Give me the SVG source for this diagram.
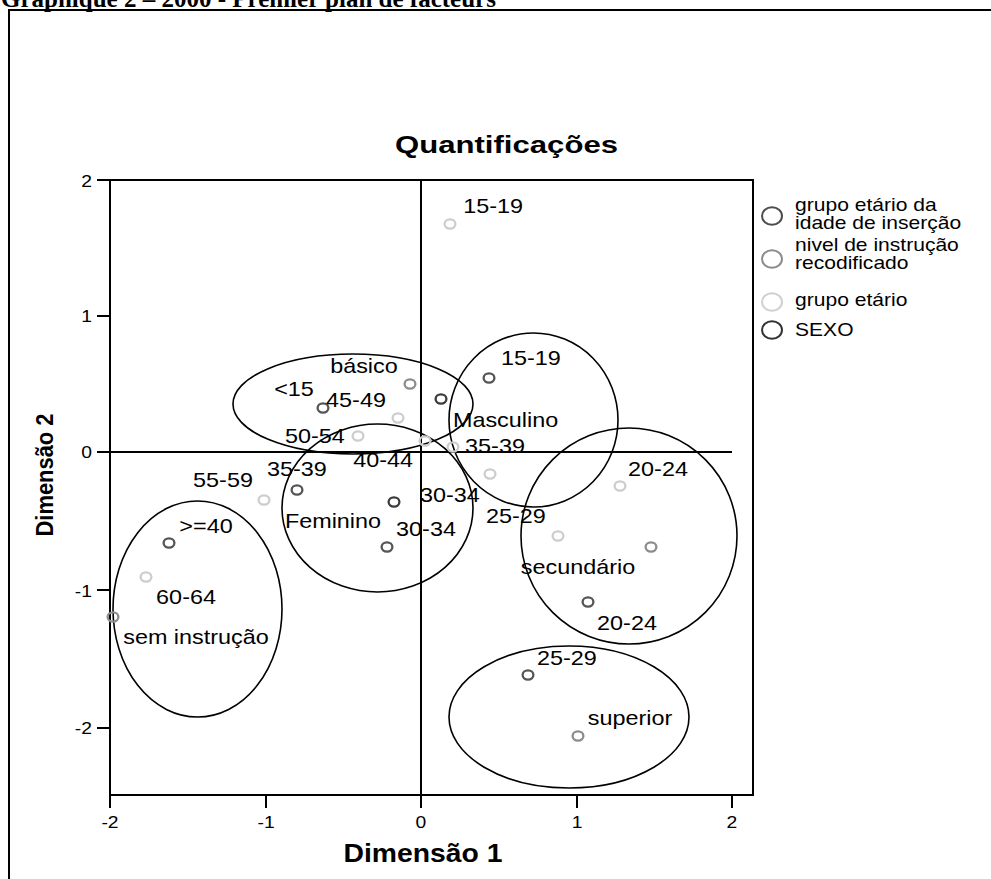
<svg xmlns="http://www.w3.org/2000/svg" width="991" height="879" viewBox="0 0 991 879">
<style>
  text{font-family:"Liberation Sans",Arial,sans-serif;fill:#000}
  .lbl{font-size:20px;text-anchor:middle}
  .leg{font-size:18px}
  .tkx{font-size:16.5px;text-anchor:middle}
  .tky{font-size:16.5px;text-anchor:end}
  .b{font-weight:bold;text-anchor:middle}
  .ax{stroke:#000;stroke-width:2;fill:none}
  .el{stroke:#000;stroke-width:1.6;fill:none}
  .pt{fill:none;stroke-width:2.3}
  .lt{stroke:#cdcdcd}
  .md{stroke:#8c8c8c}
  .dk{stroke:#555555}
  .sx{stroke:#3c3c3c}
  .lg{fill:none;stroke-width:2}
</style>
<rect width="991" height="879" fill="#ffffff"/>
<text x="1" y="6.5" style="font-family:'Liberation Serif','Times New Roman',serif;font-weight:bold;font-size:25px">Graphique 2 – 2000 - Premier plan de facteurs</text>
<path class="ax" d="M9,879 V10 H991"/>

<g id="title">
  <text class="b" x="506.5" y="153" font-size="24" textLength="223" lengthAdjust="spacingAndGlyphs">Quantificações</text>
</g>

<g id="axes">
  <rect class="ax" x="110" y="180" width="643" height="615"/>
  <path class="ax" d="M110,452 H732 M421,180 V795"/>
  <path class="ax" d="M97,180 H110 M97,316 H110 M97,452 H110 M97,590 H110 M97,728 H110"/>
  <path class="ax" d="M110,795 V808 M266,795 V808 M421,795 V808 M577,795 V808 M732,795 V808"/>
  <g transform="scale(1.17,1)">
    <text class="tky" x="78.6" y="187">2</text>
    <text class="tky" x="78.6" y="322">1</text>
    <text class="tky" x="78.6" y="458">0</text>
    <text class="tky" x="78.6" y="597">-1</text>
    <text class="tky" x="78.6" y="734">-2</text>
    <text class="tkx" x="94.0" y="828">-2</text>
    <text class="tkx" x="227.4" y="828">-1</text>
    <text class="tkx" x="359.8" y="828">0</text>
    <text class="tkx" x="493.2" y="828">1</text>
    <text class="tkx" x="625.6" y="828">2</text>
  </g>
  <text class="b" x="423" y="862" font-size="25.5" textLength="159" lengthAdjust="spacingAndGlyphs">Dimensão 1</text>
  <text class="b" transform="translate(53,475) rotate(-90)" x="0" y="0" font-size="23" textLength="123" lengthAdjust="spacingAndGlyphs">Dimensão 2</text>
</g>

<g id="clusters">
  <ellipse id="c-basico" class="el" cx="353" cy="404" rx="120" ry="50"/>
  <ellipse id="c-masculino" class="el" cx="533.5" cy="420" rx="84.5" ry="87"/>
  <ellipse id="c-feminino" class="el" cx="377.5" cy="508" rx="95.5" ry="84"/>
  <ellipse id="c-sem" class="el" cx="197.5" cy="609" rx="84.5" ry="108"/>
  <ellipse id="c-secundario" class="el" cx="629" cy="536" rx="108" ry="108"/>
  <ellipse id="c-superior" class="el" cx="569" cy="717" rx="120" ry="71"/>
</g>

<g id="points">
  <g id="grupo-etario">
    <ellipse class="pt lt" cx="450" cy="224" rx="5.4" ry="4.6"/>
    <ellipse class="pt lt" cx="398" cy="418" rx="5.4" ry="4.6"/>
    <ellipse class="pt lt" cx="358" cy="436" rx="5.4" ry="4.6"/>
    <ellipse class="pt lt" cx="425" cy="441" rx="5.4" ry="4.6"/>
    <ellipse class="pt lt" cx="453" cy="447" rx="5.4" ry="4.6"/>
    <ellipse class="pt lt" cx="490" cy="474" rx="5.4" ry="4.6"/>
    <ellipse class="pt lt" cx="264" cy="500" rx="5.4" ry="4.6"/>
    <ellipse class="pt lt" cx="620" cy="486" rx="5.4" ry="4.6"/>
    <ellipse class="pt lt" cx="558" cy="536" rx="5.4" ry="4.6"/>
    <ellipse class="pt lt" cx="146" cy="577" rx="5.4" ry="4.6"/>
  </g>
  <g id="nivel">
    <ellipse class="pt md" cx="410" cy="384" rx="5.4" ry="4.6"/>
    <ellipse class="pt md" cx="651" cy="547" rx="5.4" ry="4.6"/>
    <ellipse class="pt md" cx="578" cy="736" rx="5.4" ry="4.6"/>
    <ellipse class="pt md" cx="113" cy="617" rx="5.4" ry="4.6"/>
  </g>
  <g id="idade-insercao">
    <ellipse class="pt dk" cx="323" cy="408" rx="5.4" ry="4.6"/>
    <ellipse class="pt dk" cx="489" cy="378" rx="5.4" ry="4.6"/>
    <ellipse class="pt dk" cx="297" cy="490" rx="5.4" ry="4.6"/>
    <ellipse class="pt dk" cx="169" cy="543" rx="5.4" ry="4.6"/>
    <ellipse class="pt dk" cx="588" cy="602" rx="5.4" ry="4.6"/>
    <ellipse class="pt dk" cx="528" cy="675" rx="5.4" ry="4.6"/>
    <ellipse class="pt dk" cx="387" cy="547" rx="5.4" ry="4.6"/>
  </g>
  <g id="sexo">
    <ellipse class="pt sx" cx="441" cy="399" rx="5.4" ry="4.6"/>
    <ellipse class="pt sx" cx="394" cy="502" rx="5.4" ry="4.6"/>
  </g>
</g>

<g id="labels" transform="scale(1.17,1)">
  <text class="lbl" x="421.4" y="213">15-19</text>
  <text class="lbl" x="453.8" y="365">15-19</text>
  <text class="lbl" x="311.1" y="373">básico</text>
  <text class="lbl" x="251.3" y="396">&lt;15</text>
  <text class="lbl" x="304.3" y="407">45-49</text>
  <text class="lbl" x="432.1" y="427">Masculino</text>
  <text class="lbl" x="269.2" y="443">50-54</text>
  <text class="lbl" x="423.1" y="453">35-39</text>
  <text class="lbl" x="327.4" y="467">40-44</text>
  <text class="lbl" x="253.8" y="476">35-39</text>
  <text class="lbl" x="190.6" y="487">55-59</text>
  <text class="lbl" x="384.6" y="502">30-34</text>
  <text class="lbl" x="284.6" y="528">Feminino</text>
  <text class="lbl" x="441.0" y="523">25-29</text>
  <text class="lbl" x="364.1" y="536">30-34</text>
  <text class="lbl" x="176.1" y="533">&gt;=40</text>
  <text class="lbl" x="159.0" y="604">60-64</text>
  <text class="lbl" x="167.5" y="644">sem instrução</text>
  <text class="lbl" x="562.4" y="476">20-24</text>
  <text class="lbl" x="494.0" y="574">secundário</text>
  <text class="lbl" x="535.9" y="630">20-24</text>
  <text class="lbl" x="484.6" y="665">25-29</text>
  <text class="lbl" x="538.5" y="725">superior</text>
</g>

<g id="legend">
  <ellipse class="lg" cx="772" cy="216" rx="10" ry="8.7" stroke="#4d4d4d"/>
  <ellipse class="lg" cx="772" cy="259" rx="10" ry="8.7" stroke="#8c8c8c"/>
  <ellipse class="lg" cx="772" cy="302" rx="10" ry="8.7" stroke="#d0d0d0"/>
  <ellipse class="lg" cx="772" cy="330" rx="10" ry="8.7" stroke="#333333"/>
  <g transform="scale(1.17,1)">
    <text class="leg" x="679.5" y="211">grupo etário da</text>
    <text class="leg" x="679.5" y="229">idade de inserção</text>
    <text class="leg" x="679.5" y="251">nivel de instrução</text>
    <text class="leg" x="679.5" y="269">recodificado</text>
    <text class="leg" x="679.5" y="306">grupo etário</text>
    <text class="leg" x="679.5" y="336">SEXO</text>
  </g>
</g>
</svg>
